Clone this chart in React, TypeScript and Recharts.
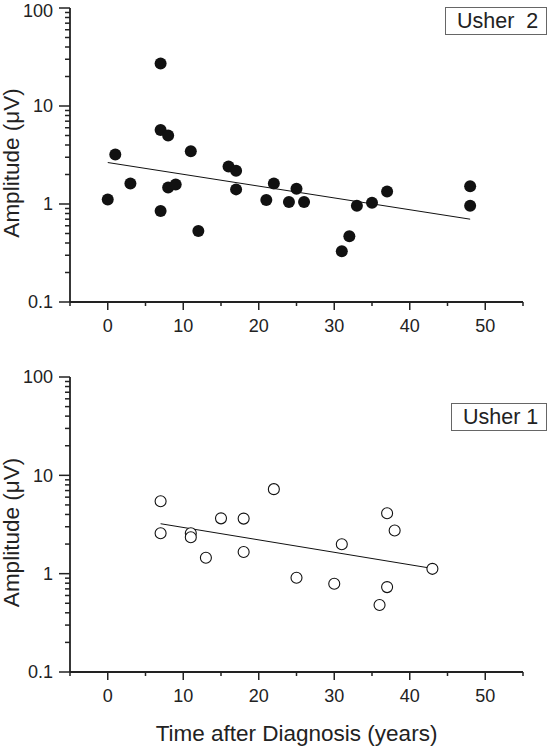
import React from 'react';
import { ScatterChart, Scatter, XAxis, YAxis } from 'recharts';

// Usher 2 (filled circles)
const usher2Years = [0, 1, 3, 7, 7, 7, 8, 8, 9, 11, 12, 16, 17, 17, 21, 22, 24, 25, 26, 31, 32, 33, 35, 37, 48, 48];
const usher2Amp = [1.11, 3.2, 1.62, 27.2, 5.7, 0.85, 5.0, 1.47, 1.58, 3.46, 0.53, 2.41, 2.18, 1.41, 1.1, 1.62, 1.05, 1.43, 1.05, 0.33, 0.47, 0.96, 1.03, 1.34, 1.52, 0.96];
const usher2FitYears = [0, 48];
const usher2FitAmp = [2.65, 0.7];

// Usher 1 (open circles)
const usher1Years = [7, 7, 11, 11, 13, 15, 18, 18, 22, 25, 30, 31, 36, 37, 37, 38, 43];
const usher1Amp = [5.45, 2.58, 2.58, 2.35, 1.45, 3.65, 3.63, 1.66, 7.24, 0.91, 0.79, 1.99, 0.48, 4.11, 0.73, 2.75, 1.12];
const usher1FitYears = [7, 43];
const usher1FitAmp = [3.22, 1.13];

// Axis ticks
const xTicks = [-5, 0, 5, 10, 15, 20, 25, 30, 35, 40, 45, 50, 55];
const xMajor = [0, 10, 20, 30, 40, 50];
const yMajor = [0.1, 1, 10, 100];
const yTickLabels = ['0.1', '1', '10', '100'];
const yTicks = [
  0.1, 0.2, 0.3, 0.4, 0.5, 0.6, 0.7, 0.8, 0.9,
  1, 2, 3, 4, 5, 6, 7, 8, 9,
  10, 20, 30, 40, 50, 60, 70, 80, 90, 100,
];

const FONT = '"Liberation Sans", Arial, sans-serif';
const INK = '#222';

const zip = (xs: number[], ys: number[]) => xs.map((x, i) => ({ x, y: ys[i] }));

const XTick = (props: any) => {
  const { x, y, payload } = props;
  const v = payload.value;
  const major = xMajor.includes(v);
  return (
    <g>
      <line x1={x} x2={x} y1={y} y2={y + (major ? 8 : 4)} stroke={INK} strokeWidth={1.5} />
      {major && (
        <text x={x} y={y + 29.5} textAnchor="middle" fontSize={18} fontFamily={FONT} fill={INK}>
          {v}
        </text>
      )}
    </g>
  );
};

const YTick = (props: any) => {
  const { x, y, payload } = props;
  const v = payload.value;
  const idx = yMajor.findIndex((m) => Math.abs(m - v) < 1e-9);
  const major = idx >= 0;
  return (
    <g>
      <line x1={x - (major ? 11 : 5)} x2={x} y1={y} y2={y} stroke={INK} strokeWidth={1.5} />
      {major && (
        <text x={x - 17} y={Math.max(y, 10.5)} dy="0.36em" textAnchor="end" fontSize={18} fontFamily={FONT} fill={INK}>
          {yTickLabels[idx]}
        </text>
      )}
    </g>
  );
};

const Filled = (p: any) => <circle cx={p.cx} cy={p.cy} r={6} fill="#111" />;
const Open = (p: any) => <circle cx={p.cx} cy={p.cy} r={5.5} fill="#fff" stroke="#111" strokeWidth={1.1} />;
const NoShape = () => <g />;

const YLabel = (props: any) => {
  const vb = props.viewBox;
  const cy = vb.y + vb.height / 2 + 8;
  return (
    <text
      x={19}
      y={cy}
      transform={`rotate(-90 19 ${cy})`}
      textAnchor="middle"
      fontSize={22.5}
      fontFamily={FONT}
      fill={INK}
    >
      Amplitude (μV)
    </text>
  );
};

const XLabel = (props: any) => {
  const vb = props.viewBox;
  return (
    <text
      x={vb.x + vb.width / 2}
      y={vb.y + 69}
      textAnchor="middle"
      fontSize={22.5}
      fontFamily={FONT}
      fill={INK}
    >
      Time after Diagnosis (years)
    </text>
  );
};

type PanelProps = {
  height: number;
  margin: { top: number; right: number; bottom: number; left: number };
  points: { x: number; y: number }[];
  fit: { x: number; y: number }[];
  filled: boolean;
  showXLabel: boolean;
};

const Panel = ({ height, margin, points, fit, filled, showXLabel }: PanelProps) => (
  <ScatterChart width={552} height={height} margin={margin}>
    <XAxis
      type="number"
      dataKey="x"
      domain={[-5, 55]}
      ticks={xTicks}
      interval={0}
      allowDataOverflow
      tickSize={0}
      tickMargin={0}
      tickLine={false}
      tick={<XTick />}
      axisLine={{ stroke: INK, strokeWidth: 1.8 }}
      height={40}
      label={showXLabel ? <XLabel /> : undefined}
    />
    <YAxis
      type="number"
      dataKey="y"
      scale="log"
      domain={[0.1, 100]}
      ticks={yTicks}
      interval={0}
      allowDataOverflow
      tickSize={0}
      tickMargin={0}
      tickLine={false}
      tick={<YTick />}
      axisLine={{ stroke: INK, strokeWidth: 1.8 }}
      width={60}
      label={<YLabel />}
    />
    <Scatter
      data={fit}
      line={{ stroke: '#111', strokeWidth: 1 }}
      shape={<NoShape />}
      isAnimationActive={false}
    />
    <Scatter data={points} shape={filled ? <Filled /> : <Open />} isAnimationActive={false} />
  </ScatterChart>
);

const boxStyle: React.CSSProperties = {
  position: 'absolute',
  border: '1px solid #666',
  fontFamily: FONT,
  fontSize: 21.5,
  color: INK,
  whiteSpace: 'pre',
  lineHeight: '26px',
  boxSizing: 'border-box',
  background: '#fff',
};

export default function App() {
  return (
    <div style={{ position: 'absolute', left: 0, top: 0, width: 552, height: 748, background: '#fff', overflow: 'hidden' }}>
      <div style={{ position: 'absolute', left: 0, top: 0 }}>
        <Panel
          height={345}
          margin={{ top: 8, right: 29, bottom: 3, left: 10 }}
          points={zip(usher2Years, usher2Amp)}
          fit={zip(usher2FitYears, usher2FitAmp)}
          filled
          showXLabel={false}
        />
      </div>
      <div style={{ position: 'absolute', left: 0, top: 345 }}>
        <Panel
          height={403}
          margin={{ top: 32, right: 29, bottom: 36, left: 10 }}
          points={zip(usher1Years, usher1Amp)}
          fit={zip(usher1FitYears, usher1FitAmp)}
          filled={false}
          showXLabel
        />
      </div>
      <div style={{ ...boxStyle, left: 445, top: 7, width: 102, height: 28, paddingLeft: 11 }}>Usher  2</div>
      <div style={{ ...boxStyle, left: 451, top: 403, width: 96, height: 28, paddingLeft: 11 }}>Usher 1</div>
    </div>
  );
}
